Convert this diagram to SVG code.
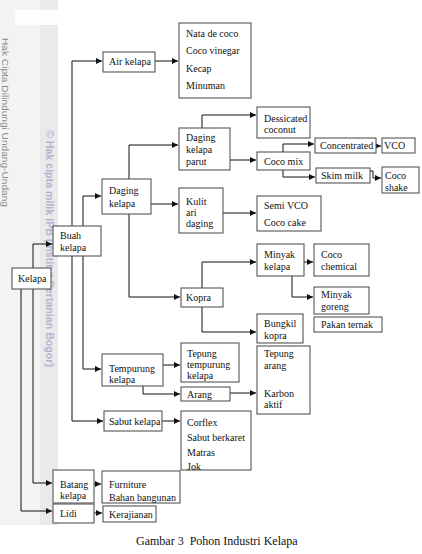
<svg xmlns="http://www.w3.org/2000/svg" width="422" height="554" viewBox="0 0 422 554">
<style>
.box{fill:#fff;stroke:#555;stroke-width:1.1}
.t{font-family:"Liberation Serif","Times New Roman",serif;font-size:10px;fill:#111}
.ln{fill:none;stroke:#111;stroke-width:1}
.wm1{font-family:"Liberation Sans",Arial,sans-serif;font-size:9.5px;fill:#8a8a8a}
.wm2{font-family:"Liberation Sans",Arial,sans-serif;font-size:10.5px;font-weight:bold;fill:#b3b3d4}
</style>
<defs>
<marker id="ah" markerUnits="userSpaceOnUse" markerWidth="7" markerHeight="7" refX="6" refY="3" orient="auto">
<path d="M0,0 L6,3 L0,6 z" fill="#111"/>
</marker>
</defs>
<rect width="422" height="554" fill="#fff"/>
<g id="background">
<rect x="0" y="0" width="58" height="525" fill="#f3f3f3"/>
<rect x="40" y="0" width="18" height="525" fill="#eaeaea"/>
<rect x="15" y="10" width="43" height="15" fill="#fdfdfd"/>
<text class="wm1" transform="translate(2,38) rotate(90)" textLength="169" lengthAdjust="spacingAndGlyphs">Hak Cipta Dilindungi Undang-Undang</text>
<text class="wm2" transform="translate(46,130) rotate(90)" textLength="237" lengthAdjust="spacingAndGlyphs">© Hak cipta milik IPB (Institut Pertanian Bogor)</text>
</g>
<g id="connectors">
<path class="ln" d="M33,268 V244 H52" marker-end="url(#ah)"/>
<path class="ln" d="M33,289 V483 H52" marker-end="url(#ah)"/>
<path class="ln" d="M21,289 V511 H52" marker-end="url(#ah)"/>
<path class="ln" d="M72,226 V61 H102" marker-end="url(#ah)"/>
<path class="ln" d="M72,256 V421 H103" marker-end="url(#ah)"/>
<path class="ln" d="M83,226 V196 H101" marker-end="url(#ah)"/>
<path class="ln" d="M83,256 V369 H101" marker-end="url(#ah)"/>
<path class="ln" d="M155,61 H178" marker-end="url(#ah)"/>
<path class="ln" d="M129,179 V145 H178" marker-end="url(#ah)"/>
<path class="ln" d="M151,204 H178" marker-end="url(#ah)"/>
<path class="ln" d="M129,214 V297 H180" marker-end="url(#ah)"/>
<path class="ln" d="M202,128 V115 H256" marker-end="url(#ah)"/>
<path class="ln" d="M230,160 H256" marker-end="url(#ah)"/>
<path class="ln" d="M283,152 V144 H314" marker-end="url(#ah)"/>
<path class="ln" d="M283,170 V177 H315" marker-end="url(#ah)"/>
<path class="ln" d="M376,146 H381" marker-end="url(#ah)"/>
<path class="ln" d="M370,171 H373 V178 H381" marker-end="url(#ah)"/>
<path class="ln" d="M223,213 H256" marker-end="url(#ah)"/>
<path class="ln" d="M202,288 V262 H256" marker-end="url(#ah)"/>
<path class="ln" d="M202,307 V332 H256" marker-end="url(#ah)"/>
<path class="ln" d="M304,262 H313" marker-end="url(#ah)"/>
<path class="ln" d="M292,276 V297 H313" marker-end="url(#ah)"/>
<path class="ln" d="M163,365 H180" marker-end="url(#ah)"/>
<path class="ln" d="M143,386 V394 H180" marker-end="url(#ah)"/>
<path class="ln" d="M230,393 H256" marker-end="url(#ah)"/>
<path class="ln" d="M162,421 H180" marker-end="url(#ah)"/>
<path class="ln" d="M94,484 H101" marker-end="url(#ah)"/>
<path class="ln" d="M94,513 H102" marker-end="url(#ah)"/>
</g>
<g id="kelapa"><rect class="box" x="12" y="268" width="39" height="21"/><text class="t" x="18" y="282">Kelapa</text></g>
<g id="buah-kelapa"><rect class="box" x="53" y="226" width="48" height="30"/><text class="t" x="60" y="239">Buah</text><text class="t" x="60" y="251">kelapa</text></g>
<g id="air-kelapa"><rect class="box" x="103" y="52" width="52" height="20"/><text class="t" x="109" y="65">Air kelapa</text></g>
<g id="nata"><rect class="box" x="179" y="23" width="72" height="75"/><text class="t" x="186" y="37">Nata de coco</text><text class="t" x="186" y="54">Coco vinegar</text><text class="t" x="186" y="72">Kecap</text><text class="t" x="186" y="89">Minuman</text></g>
<g id="daging-kelapa"><rect class="box" x="102" y="179" width="49" height="35"/><text class="t" x="109" y="194">Daging</text><text class="t" x="109" y="207">kelapa</text></g>
<g id="daging-kelapa-parut"><rect class="box" x="179" y="128" width="51" height="42"/><text class="t" x="186" y="141">Daging</text><text class="t" x="186" y="153">kelapa</text><text class="t" x="186" y="165">parut</text></g>
<g id="dessicated"><rect class="box" x="257" y="107" width="53" height="31"/><text class="t" x="264" y="122">Dessicated</text><text class="t" x="264" y="133">coconut</text></g>
<g id="coco-mix"><rect class="box" x="257" y="152" width="53" height="18"/><text class="t" x="264" y="165">Coco mix</text></g>
<g id="concentrated"><rect class="box" x="315" y="138" width="61" height="15"/><text class="t" x="320" y="149">Concentrated</text></g>
<g id="vco"><rect class="box" x="382" y="138" width="33" height="15"/><text class="t" x="384" y="149">VCO</text></g>
<g id="skim-milk"><rect class="box" x="316" y="168" width="54" height="15"/><text class="t" x="321" y="179">Skim milk</text></g>
<g id="coco-shake"><rect class="box" x="382" y="167" width="37" height="26"/><text class="t" x="385" y="179">Coco</text><text class="t" x="385" y="191">shake</text></g>
<g id="kulit-ari-daging"><rect class="box" x="179" y="188" width="44" height="45"/><text class="t" x="186" y="205">Kulit</text><text class="t" x="186" y="216">ari</text><text class="t" x="186" y="227">daging</text></g>
<g id="semi-vco"><rect class="box" x="257" y="196" width="64" height="35"/><text class="t" x="264" y="209">Semi VCO</text><text class="t" x="264" y="226">Coco cake</text></g>
<g id="kopra"><rect class="box" x="181" y="288" width="42" height="19"/><text class="t" x="186" y="301">Kopra</text></g>
<g id="minyak-kelapa"><rect class="box" x="257" y="244" width="47" height="32"/><text class="t" x="264" y="258">Minyak</text><text class="t" x="264" y="270">kelapa</text></g>
<g id="coco-chemical"><rect class="box" x="314" y="244" width="55" height="32"/><text class="t" x="321" y="258">Coco</text><text class="t" x="321" y="270">chemical</text></g>
<g id="minyak-goreng"><rect class="box" x="314" y="287" width="55" height="27"/><text class="t" x="321" y="298">Minyak</text><text class="t" x="321" y="310">goreng</text></g>
<g id="pakan-ternak"><rect class="box" x="314" y="317" width="68" height="15"/><text class="t" x="321" y="328">Pakan ternak</text></g>
<g id="bungkil-kopra"><rect class="box" x="257" y="314" width="46" height="29"/><text class="t" x="264" y="327">Bungkil</text><text class="t" x="264" y="339">kopra</text></g>
<g id="tempurung-kelapa"><rect class="box" x="102" y="354" width="61" height="32"/><text class="t" x="109" y="372">Tempurung</text><text class="t" x="109" y="383">kelapa</text></g>
<g id="tepung-tempurung"><rect class="box" x="181" y="343" width="58" height="39"/><text class="t" x="187" y="357">Tepung</text><text class="t" x="187" y="368">tempurung</text><text class="t" x="187" y="379">kelapa</text></g>
<g id="arang"><rect class="box" x="181" y="387" width="49" height="14"/><text class="t" x="187" y="398">Arang</text></g>
<g id="tepung-arang"><rect class="box" x="257" y="346" width="53" height="68"/><text class="t" x="264" y="357">Tepung</text><text class="t" x="264" y="369">arang</text><text class="t" x="264" y="397">Karbon</text><text class="t" x="264" y="408">aktif</text></g>
<g id="sabut-kelapa"><rect class="box" x="104" y="411" width="58" height="20"/><text class="t" x="109" y="425">Sabut kelapa</text></g>
<g id="corflex"><rect class="box" x="181" y="411" width="70" height="59"/><text class="t" x="187" y="426">Corflex</text><text class="t" x="187" y="441">Sabut berkaret</text><text class="t" x="187" y="456">Matras</text><text class="t" x="187" y="470">Jok</text></g>
<g id="batang-kelapa"><rect class="box" x="53" y="470" width="41" height="33"/><text class="t" x="60" y="488">Batang</text><text class="t" x="60" y="499">kelapa</text></g>
<g id="furniture"><rect class="box" x="102" y="471" width="78" height="32"/><text class="t" x="109" y="488">Furniture</text><text class="t" x="109" y="501">Bahan bangunan</text></g>
<g id="lidi"><rect class="box" x="53" y="504" width="41" height="19"/><text class="t" x="60" y="517">Lidi</text></g>
<g id="kerajianan"><rect class="box" x="103" y="506" width="53" height="16"/><text class="t" x="109" y="518">Kerajianan</text></g>
<text class="t" x="136" y="545" style="font-size:12px;white-space:pre" xml:space="preserve">Gambar 3  Pohon Industri Kelapa</text>
</svg>
